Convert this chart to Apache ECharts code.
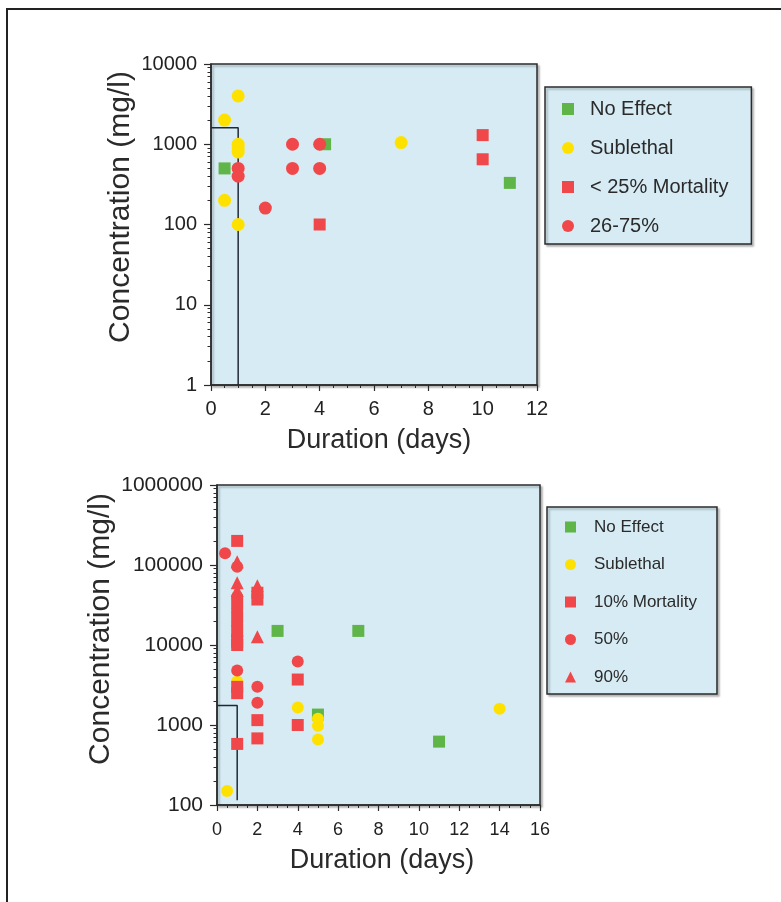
<!DOCTYPE html>
<html><head><meta charset="utf-8">
<script src="https://cdn.jsdelivr.net/npm/echarts@6/dist/echarts.min.js"></script>
<style>html,body{margin:0;padding:0;background:#fff}#c{width:781px;height:902px}</style>
</head><body><div id="c"></div>
<script>
// ---------- DATA ----------
const topNoEffect = [[0.5, 500], [4.2, 1000], [11, 330]];
const topSublethal = [[1, 4000], [0.5, 2000], [1, 1000], [1, 900], [1, 800], [0.5, 200], [1, 100], [7, 1050]];
const topMort25 = [[4, 100], [10, 1300], [10, 650]];
const topMort75 = [[1, 500], [1, 400], [2, 160], [3, 1000], [3, 500], [4, 1000], [4, 500]];
const topBox = [[0, 1600], [1, 1600], [1, 1]];

const botNoEffect = [[3, 15000], [7, 15000], [5, 1350], [11, 620]];
const botSublethal = [[0.5, 150], [1, 3500], [4, 1650], [5, 1200], [5, 980], [5, 660], [14, 1600]];
const botMort10 = [[1, 200000], [1, 33000], [1, 22000], [1, 15000], [1, 11000], [1, 10000], [1, 3000], [1, 2500], [1, 580],
  [2, 45000], [2, 37000], [2, 1150], [2, 680], [4, 3700], [4, 1000]];
const botMort50 = [[0.4, 140000], [1, 95000], [1, 40000], [1, 27000], [1, 18000], [1, 13000], [1, 4800], [2, 3000], [2, 1900], [4, 6200]];
const botMort90 = [[1, 110000], [1, 60000], [1, 48000], [2, 55000], [2, 12700]];
const botBox = [[0, 1750], [1, 1750], [1, 115]];

const topYTicks = [1, 10, 100, 1000, 10000];
const botYTicks = [100, 1000, 10000, 100000, 1000000];
const topXMax = 12, botXMax = 16, xStep = 2;

const topLegendNames = ['No Effect', 'Sublethal', '< 25% Mortality', '26-75%'];
const botLegendNames = ['No Effect', 'Sublethal', '10% Mortality', '50%', '90%'];

const yTitle = 'Concentration (mg/l)';
const xTitle = 'Duration (days)';

// ---------- STYLE ----------
const FONT = '"Liberation Sans", Arial, sans-serif';
const GREEN = '#5fb548', YELLOW = '#ffe100', RED = '#f0484a';
const PLOTBG = '#d6ebf3', INK = '#2b2b2b';

function minorOf(majors) {
  const out = [];
  for (let i = 0; i < majors.length - 1; i++) for (let k = 2; k <= 9; k++) out.push(majors[i] * k);
  return out;
}

function xAxisCfg(gi, max, fs, margin) {
  return {
    type: 'value', gridIndex: gi, min: 0, max: max, interval: xStep,
    axisLine: { lineStyle: { color: INK, width: 1.5 } },
    axisTick: { length: 6, lineStyle: { color: INK, width: 1.2 } },
    minorTick: { show: true, splitNumber: 4, length: 3, lineStyle: { color: INK, width: 1 } },
    axisLabel: { fontSize: fs, color: '#222', fontFamily: FONT, margin: margin },
    splitLine: { show: false }
  };
}
function yAxisCfg(gi, ticks, fs, margin) {
  return {
    type: 'log', logBase: 10, gridIndex: gi, min: ticks[0], max: ticks[ticks.length - 1], interval: 1,
    axisLine: { lineStyle: { color: INK, width: 1.5 } },
    axisTick: { length: 7, lineStyle: { color: INK, width: 1.2 } },
    axisLabel: { fontSize: fs, color: '#222', fontFamily: FONT, margin: margin, formatter: v => String(Math.round(v)) },
    splitLine: { show: false }
  };
}
function yMinorCfg(gi, ticks) {
  return {
    type: 'log', logBase: 10, gridIndex: gi, min: ticks[0], max: ticks[ticks.length - 1], position: 'left',
    axisLine: { show: false },
    axisTick: { show: true, length: 3.5, customValues: minorOf(ticks), lineStyle: { color: INK, width: 1 } },
    axisLabel: { show: false },
    splitLine: { show: false }
  };
}
function pts(name, data, xi, yi, symbol, color, size) {
  return { type: 'scatter', name, data, xAxisIndex: xi, yAxisIndex: yi, symbol, symbolSize: size,
    itemStyle: { color, opacity: 1 }, z: 3 };
}
function boxLine(data, xi, yi) {
  return { type: 'line', data, xAxisIndex: xi, yAxisIndex: yi, symbol: 'none', silent: true,
    lineStyle: { color: '#1f2a36', width: 1.5 }, z: 2 };
}

const option = {
  backgroundColor: '#fff',
  animation: false,
  grid: [
    { left: 211, top: 64, width: 326, height: 321, show: true, backgroundColor: PLOTBG, borderColor: INK, borderWidth: 1.5,
      shadowColor: 'rgba(0,0,0,0.25)', shadowOffsetX: 2, shadowOffsetY: 2, shadowBlur: 2 },
    { left: 217, top: 485, width: 323, height: 320, show: true, backgroundColor: PLOTBG, borderColor: INK, borderWidth: 1.5,
      shadowColor: 'rgba(0,0,0,0.25)', shadowOffsetX: 2, shadowOffsetY: 2, shadowBlur: 2 }
  ],
  xAxis: [xAxisCfg(0, topXMax, 20, 14), xAxisCfg(1, botXMax, 18, 16)],
  yAxis: [yAxisCfg(0, topYTicks, 20, 14), yMinorCfg(0, topYTicks), yAxisCfg(1, botYTicks, 21, 14), yMinorCfg(1, botYTicks)],
  legend: [
    { left: 545, top: 87, orient: 'vertical', backgroundColor: PLOTBG, borderColor: INK, borderWidth: 1.5,
      padding: [12, 23, 8, 17], itemWidth: 12, itemHeight: 12, itemGap: 19, selectedMode: false,
      shadowColor: 'rgba(0,0,0,0.25)', shadowOffsetX: 2, shadowOffsetY: 2, shadowBlur: 2,
      textStyle: { fontSize: 20, color: '#2a2a2a', fontFamily: FONT, lineHeight: 20, padding: [0, 0, 0, 11] },
      data: topLegendNames },
    { left: 547, top: 507, orient: 'vertical', backgroundColor: PLOTBG, borderColor: INK, borderWidth: 1.5,
      padding: [11, 20, 8, 18], itemWidth: 11, itemHeight: 11, itemGap: 19.5, selectedMode: false,
      shadowColor: 'rgba(0,0,0,0.25)', shadowOffsetX: 2, shadowOffsetY: 2, shadowBlur: 2,
      textStyle: { fontSize: 17, color: '#2a2a2a', fontFamily: FONT, lineHeight: 18, padding: [0, 0, 0, 13] },
      data: botLegendNames }
  ],
  graphic: [
    { type: 'rect', shape: { x: 7, y: 9, width: 800, height: 900 }, style: { fill: 'none', stroke: '#222', lineWidth: 2 }, silent: true },
    { type: 'text', x: 121, y: 207, rotation: Math.PI / 2, style: { text: yTitle, fontSize: 30, fontFamily: FONT, fill: '#2a2a2a', align: 'center', verticalAlign: 'middle' } },
    { type: 'text', x: 101, y: 629, rotation: Math.PI / 2, style: { text: yTitle, fontSize: 30, fontFamily: FONT, fill: '#2a2a2a', align: 'center', verticalAlign: 'middle' } },
    { type: 'text', x: 379, y: 441, style: { text: xTitle, fontSize: 27, fontFamily: FONT, fill: '#2a2a2a', align: 'center', verticalAlign: 'middle' } },
    { type: 'text', x: 382, y: 861, style: { text: xTitle, fontSize: 27, fontFamily: FONT, fill: '#2a2a2a', align: 'center', verticalAlign: 'middle' } }
  ],
  series: [
    boxLine(topBox, 0, 0),
    pts('No Effect', topNoEffect, 0, 0, 'rect', GREEN, 12),
    pts('Sublethal', topSublethal, 0, 0, 'circle', YELLOW, 13),
    pts('< 25% Mortality', topMort25, 0, 0, 'rect', RED, 12),
    pts('26-75%', topMort75, 0, 0, 'circle', RED, 13),
    boxLine(botBox, 1, 2),
    pts('No Effect', botNoEffect, 1, 2, 'rect', GREEN, 12),
    pts('Sublethal', botSublethal, 1, 2, 'circle', YELLOW, 12),
    pts('10% Mortality', botMort10, 1, 2, 'rect', RED, 12),
    pts('50%', botMort50, 1, 2, 'circle', RED, 12),
    pts('90%', botMort90, 1, 2, 'triangle', RED, 13)
  ]
};
echarts.init(document.getElementById('c')).setOption(option);
</script></body></html>
